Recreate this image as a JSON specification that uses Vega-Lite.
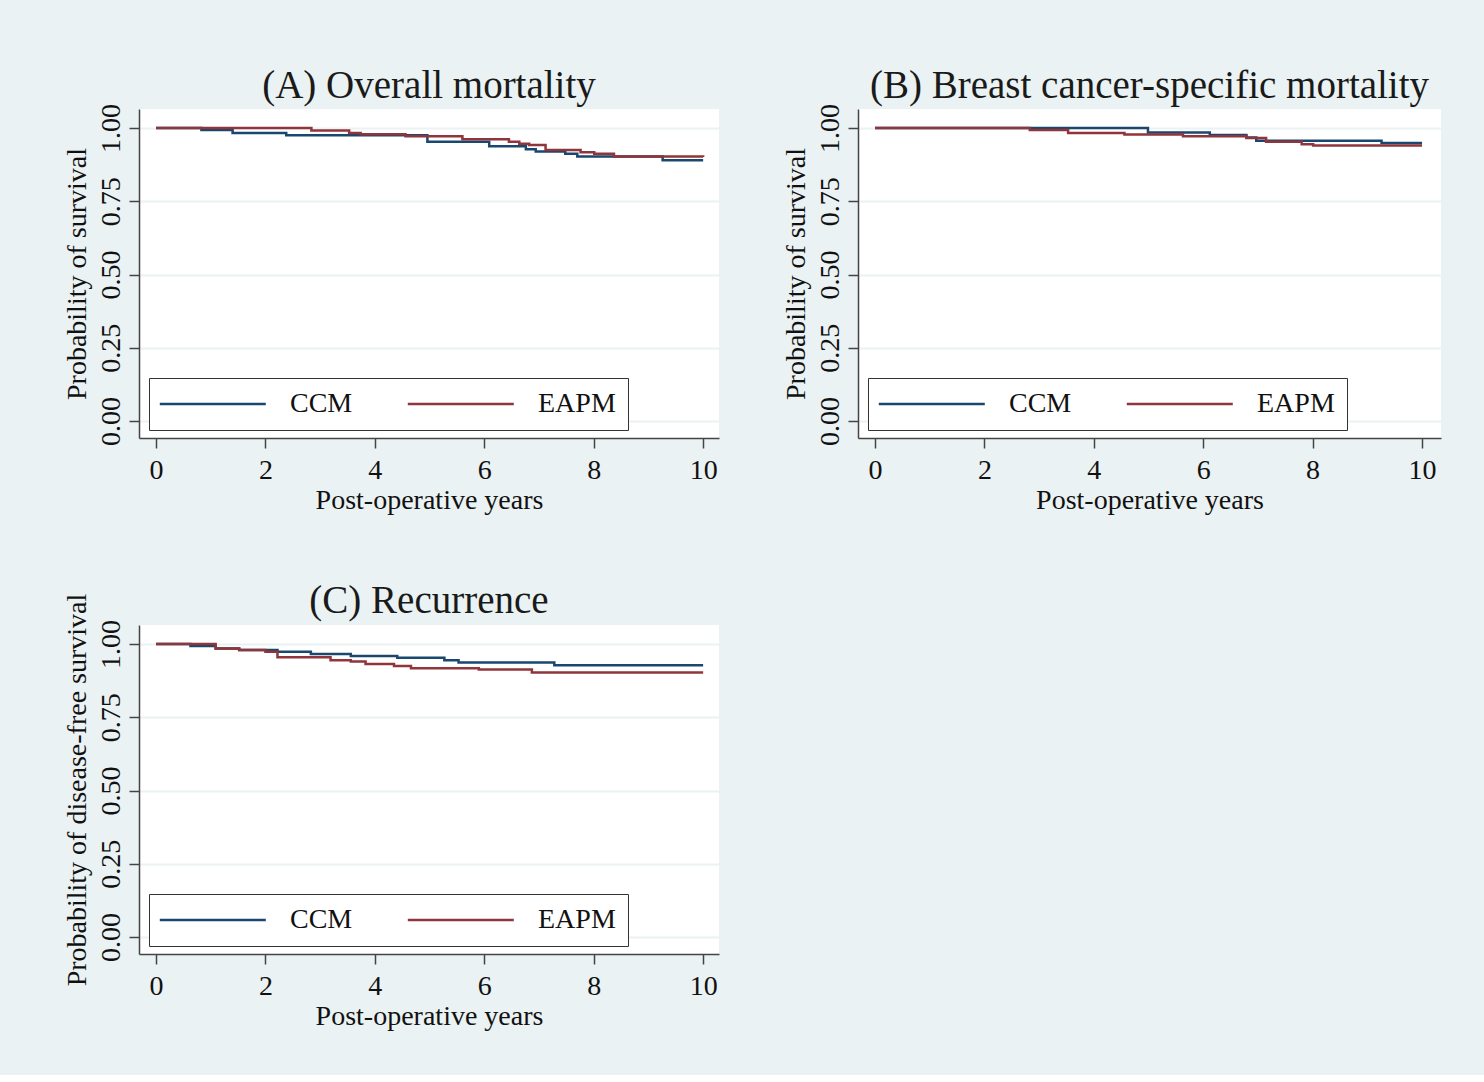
{
  "$schema": "https://vega.github.io/schema/vega-lite/v6.json",
  "background": "#EAF2F3",
  "padding": {"left": 63, "top": 66, "right": 43, "bottom": 45},
  "datasets": {
    "A": [
      {"group": "CCM", "t": 0, "s": 1},
      {"group": "CCM", "t": 0.83, "s": 0.993},
      {"group": "CCM", "t": 1.40, "s": 0.983},
      {"group": "CCM", "t": 2.38, "s": 0.975},
      {"group": "CCM", "t": 4.96, "s": 0.953},
      {"group": "CCM", "t": 6.09, "s": 0.938},
      {"group": "CCM", "t": 6.76, "s": 0.928},
      {"group": "CCM", "t": 6.94, "s": 0.920},
      {"group": "CCM", "t": 7.48, "s": 0.912},
      {"group": "CCM", "t": 7.70, "s": 0.903},
      {"group": "CCM", "t": 9.26, "s": 0.890},
      {"group": "CCM", "t": 10, "s": 0.890},
      {"group": "EAPM", "t": 0, "s": 1},
      {"group": "EAPM", "t": 2.84, "s": 0.992},
      {"group": "EAPM", "t": 3.53, "s": 0.983},
      {"group": "EAPM", "t": 3.74, "s": 0.979},
      {"group": "EAPM", "t": 4.56, "s": 0.972},
      {"group": "EAPM", "t": 5.60, "s": 0.962},
      {"group": "EAPM", "t": 6.45, "s": 0.953},
      {"group": "EAPM", "t": 6.64, "s": 0.946},
      {"group": "EAPM", "t": 6.82, "s": 0.942},
      {"group": "EAPM", "t": 7.12, "s": 0.925},
      {"group": "EAPM", "t": 7.76, "s": 0.917},
      {"group": "EAPM", "t": 8.01, "s": 0.912},
      {"group": "EAPM", "t": 8.37, "s": 0.903},
      {"group": "EAPM", "t": 10, "s": 0.901}
    ],
    "B": [
      {"group": "CCM", "t": 0, "s": 1},
      {"group": "CCM", "t": 4.99, "s": 0.985},
      {"group": "CCM", "t": 6.12, "s": 0.976},
      {"group": "CCM", "t": 6.79, "s": 0.968},
      {"group": "CCM", "t": 6.97, "s": 0.957},
      {"group": "CCM", "t": 9.26, "s": 0.949},
      {"group": "CCM", "t": 10, "s": 0.949},
      {"group": "EAPM", "t": 0, "s": 1},
      {"group": "EAPM", "t": 2.83, "s": 0.993},
      {"group": "EAPM", "t": 3.53, "s": 0.983},
      {"group": "EAPM", "t": 4.56, "s": 0.978},
      {"group": "EAPM", "t": 5.63, "s": 0.972},
      {"group": "EAPM", "t": 6.79, "s": 0.966},
      {"group": "EAPM", "t": 7.15, "s": 0.953},
      {"group": "EAPM", "t": 7.80, "s": 0.945},
      {"group": "EAPM", "t": 8.01, "s": 0.940},
      {"group": "EAPM", "t": 10, "s": 0.940}
    ],
    "C": [
      {"group": "CCM", "t": 0, "s": 1},
      {"group": "CCM", "t": 0.63, "s": 0.993},
      {"group": "CCM", "t": 1.09, "s": 0.985},
      {"group": "CCM", "t": 1.52, "s": 0.980},
      {"group": "CCM", "t": 2.22, "s": 0.974},
      {"group": "CCM", "t": 2.83, "s": 0.966},
      {"group": "CCM", "t": 3.56, "s": 0.959},
      {"group": "CCM", "t": 4.41, "s": 0.953},
      {"group": "CCM", "t": 5.27, "s": 0.945},
      {"group": "CCM", "t": 5.53, "s": 0.937},
      {"group": "CCM", "t": 7.28, "s": 0.928},
      {"group": "CCM", "t": 10, "s": 0.928},
      {"group": "EAPM", "t": 0, "s": 1},
      {"group": "EAPM", "t": 1.09, "s": 0.985},
      {"group": "EAPM", "t": 1.52, "s": 0.980},
      {"group": "EAPM", "t": 2.0, "s": 0.974},
      {"group": "EAPM", "t": 2.22, "s": 0.955},
      {"group": "EAPM", "t": 3.19, "s": 0.945},
      {"group": "EAPM", "t": 3.56, "s": 0.940},
      {"group": "EAPM", "t": 3.83, "s": 0.932},
      {"group": "EAPM", "t": 4.35, "s": 0.925},
      {"group": "EAPM", "t": 4.66, "s": 0.917},
      {"group": "EAPM", "t": 5.9, "s": 0.913},
      {"group": "EAPM", "t": 6.87, "s": 0.903},
      {"group": "EAPM", "t": 10, "s": 0.903}
    ]
  },
  "config": {
    "font": "Liberation Serif",
    "view": {"fill": "white", "stroke": null},
    "axis": {
      "labelFont": "Liberation Serif", "titleFont": "Liberation Serif",
      "labelFontSize": 28, "titleFontSize": 28,
      "labelColor": "#111111", "titleColor": "#111111", "titleFontWeight": "normal",
      "domainColor": "#444444", "tickColor": "#444444",
      "tickSize": 10, "domainWidth": 1.5, "tickWidth": 1.5,
      "gridColor": "#EAF2F3", "gridWidth": 2
    },
    "title": {"font": "Liberation Serif", "fontSize": 39, "fontWeight": "normal", "color": "#1a1a1a", "anchor": "middle", "offset": -2},
    "legend": {
      "labelFont": "Liberation Serif", "labelFontSize": 28, "labelColor": "#111111",
      "symbolType": "M-1.52,0H9.08", "symbolSize": 400, "symbolStrokeWidth": 2.5,
      "labelOffset": 101, "columnPadding": 49, "padding": 12,
      "strokeColor": "#333333", "fillColor": "white", "cornerRadius": 0
    }
  },
  "columns": 2,
  "spacing": {"row": 68, "column": 63},
  "resolve": {"scale": {"color": "independent", "x": "independent", "y": "independent"}, "legend": {"color": "independent"}},
  "concat": [
    {
      "title": "(A) Overall mortality",
      "width": 580, "height": 329,
      "data": {"name": "A"},
      "mark": {"type": "line", "interpolate": "step-after", "strokeWidth": 2.5},
      "encoding": {
        "x": {"field": "t", "type": "quantitative", "scale": {"domain": [-0.311, 10.29], "nice": false, "zero": false},
              "axis": {"values": [0, 2, 4, 6, 8, 10], "title": "Post-operative years", "grid": false, "labelPadding": 8, "titlePadding": 2}},
        "y": {"field": "s", "type": "quantitative", "scale": {"domain": [-0.058, 1.065], "nice": false, "zero": false},
              "axis": {"values": [0, 0.25, 0.5, 0.75, 1], "format": ".2f", "labelAngle": -90, "labelAlign": "center", "labelBaseline": "bottom", "labelPadding": 4, "title": "Probability of survival", "titlePadding": 6, "grid": true}},
        "color": {"field": "group", "type": "nominal", "scale": {"domain": ["CCM", "EAPM"], "range": ["#1a476f", "#90353b"]},
                  "legend": {"orient": "none", "legendX": 10, "legendY": 269, "direction": "horizontal", "columns": 2, "title": null}}
      }
    },
    {
      "title": "(B) Breast cancer-specific mortality",
      "width": 583, "height": 329,
      "data": {"name": "B"},
      "mark": {"type": "line", "interpolate": "step-after", "strokeWidth": 2.5},
      "encoding": {
        "x": {"field": "t", "type": "quantitative", "scale": {"domain": [-0.311, 10.347], "nice": false, "zero": false},
              "axis": {"values": [0, 2, 4, 6, 8, 10], "title": "Post-operative years", "grid": false, "labelPadding": 8, "titlePadding": 2}},
        "y": {"field": "s", "type": "quantitative", "scale": {"domain": [-0.058, 1.065], "nice": false, "zero": false},
              "axis": {"values": [0, 0.25, 0.5, 0.75, 1], "format": ".2f", "labelAngle": -90, "labelAlign": "center", "labelBaseline": "bottom", "labelPadding": 4, "title": "Probability of survival", "titlePadding": 6, "grid": true}},
        "color": {"field": "group", "type": "nominal", "scale": {"domain": ["CCM", "EAPM"], "range": ["#1a476f", "#90353b"]},
                  "legend": {"orient": "none", "legendX": 10, "legendY": 269, "direction": "horizontal", "columns": 2, "title": null}}
      }
    },
    {
      "title": {"text": "(C) Recurrence", "offset": -28},
      "width": 580, "height": 329,
      "data": {"name": "C"},
      "mark": {"type": "line", "interpolate": "step-after", "strokeWidth": 2.5},
      "encoding": {
        "x": {"field": "t", "type": "quantitative", "scale": {"domain": [-0.311, 10.29], "nice": false, "zero": false},
              "axis": {"values": [0, 2, 4, 6, 8, 10], "title": "Post-operative years", "grid": false, "labelPadding": 8, "titlePadding": 2}},
        "y": {"field": "s", "type": "quantitative", "scale": {"domain": [-0.058, 1.065], "nice": false, "zero": false},
              "axis": {"values": [0, 0.25, 0.5, 0.75, 1], "format": ".2f", "labelAngle": -90, "labelAlign": "center", "labelBaseline": "bottom", "labelPadding": 4, "title": "Probability of disease-free survival", "titlePadding": 6, "grid": true}},
        "color": {"field": "group", "type": "nominal", "scale": {"domain": ["CCM", "EAPM"], "range": ["#1a476f", "#90353b"]},
                  "legend": {"orient": "none", "legendX": 10, "legendY": 269, "direction": "horizontal", "columns": 2, "title": null}}
      }
    }
  ]
}
